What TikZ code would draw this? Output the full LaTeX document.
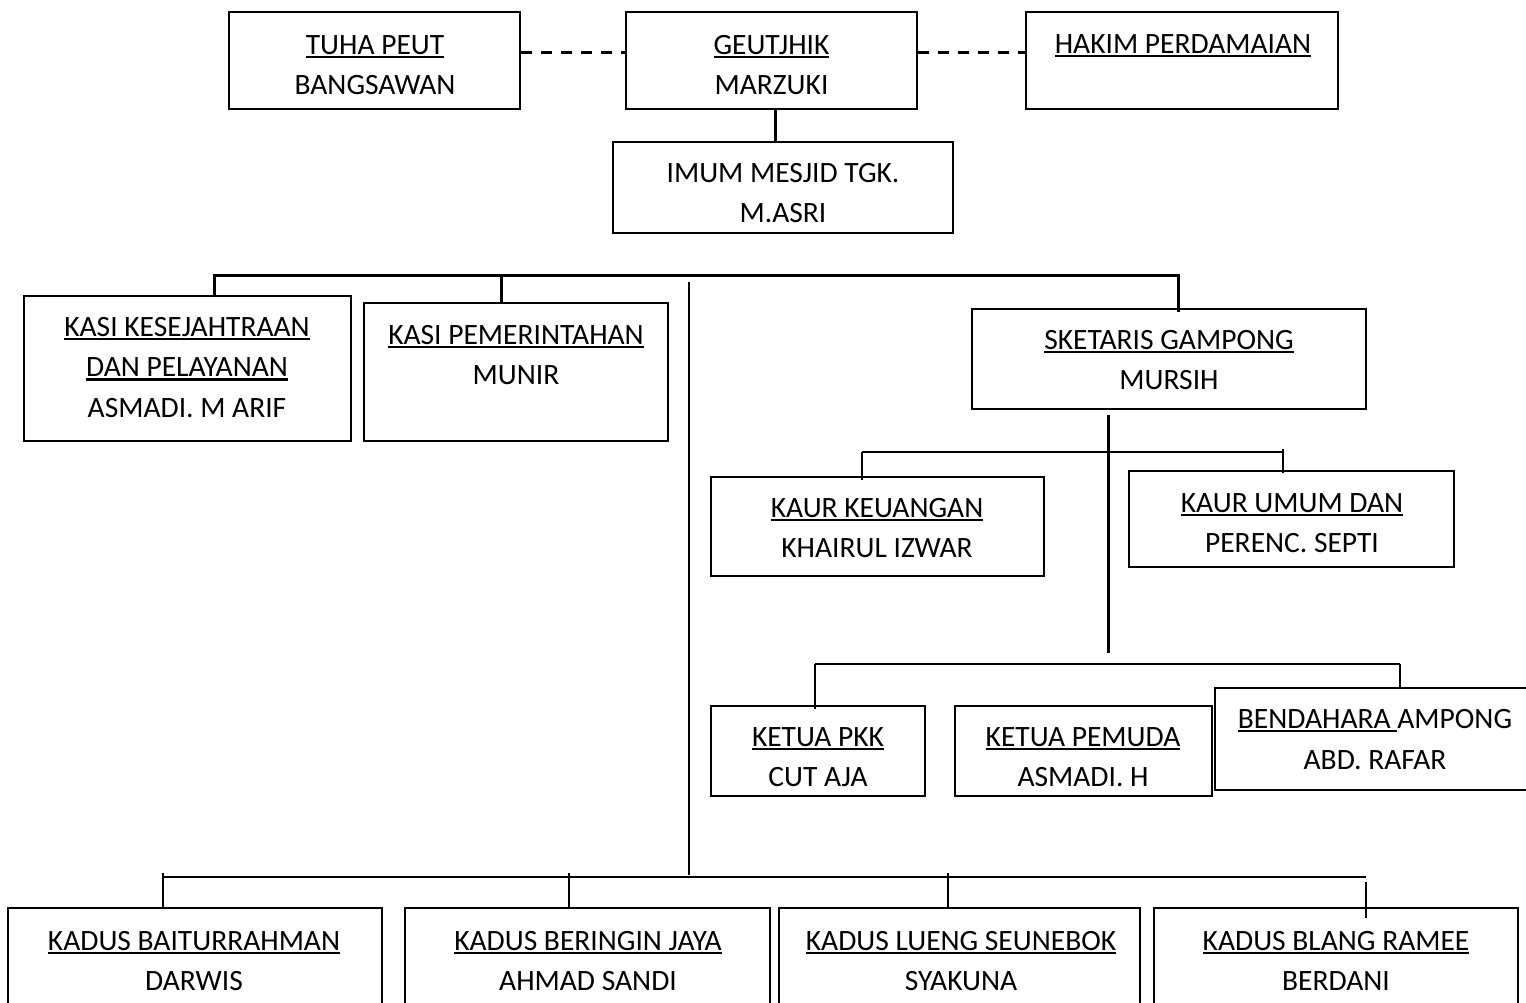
\documentclass[tikz,border=0pt]{standalone}
\usepackage{fontspec}
\setmainfont{Carlito}
\newsavebox\ulbox
\newcommand\ulin[1]{\sbox\ulbox{#1}\rlap{\rule[-3.6pt]{\wd\ulbox}{2.2pt}}\usebox\ulbox}
\begin{document}
\begin{tikzpicture}[x=1pt,y=-1pt,
  box/.style={draw, line width=1.8pt, inner sep=0pt},
  txt/.style={align=center, inner sep=0pt, font=\fontsize{29.5}{40.5}\selectfont},
  conn/.style={line width=1.8pt},
  heavy/.style={line width=3pt},
  dashconn/.style={line width=3pt, dash pattern=on 11pt off 9pt}]
\useasboundingbox (0,0) rectangle (1526,1002);
\clip (0,0) rectangle (1526,1002);
\fill[white] (0,0) rectangle (1526,1002);

% boxes
\node[box, minimum width=291pt, minimum height=97pt] (tuha) at (374.5,60.5) {};
\node[box, minimum width=291pt, minimum height=97pt] (geut) at (771.5,60.5) {};
\node[box, minimum width=312pt, minimum height=97pt] (hakim) at (1182,60.5) {};
\node[box, minimum width=340pt, minimum height=91pt] (imum) at (783,187.5) {};
\node[box, minimum width=327pt, minimum height=145pt] (kasi1) at (187.5,368.5) {};
\node[box, minimum width=304pt, minimum height=138pt] (kasi2) at (516,372) {};
\node[box, minimum width=394pt, minimum height=100pt] (sek) at (1169,359) {};
\node[box, minimum width=333pt, minimum height=99pt] (keu) at (877.5,526.5) {};
\node[box, minimum width=325pt, minimum height=96pt] (umum) at (1291.5,519) {};
\node[box, minimum width=214pt, minimum height=90pt] (pkk) at (818,751) {};
\node[box, minimum width=257pt, minimum height=90pt] (pemuda) at (1083.5,751) {};
\node[box, minimum width=315pt, minimum height=102pt] (bend) at (1372.5,739) {};
\node[box, minimum width=374pt, minimum height=98pt] (k1) at (195,957) {};
\node[box, minimum width=365pt, minimum height=98pt] (k2) at (587.5,957) {};
\node[box, minimum width=361pt, minimum height=98pt] (k3) at (959.5,957) {};
\node[box, minimum width=364pt, minimum height=98pt] (k4) at (1336,957) {};

% texts
\node[txt] (tuhaT) at (375,65) {\ulin{TUHA PEUT}\\BANGSAWAN};
\node[txt] (geutT) at (771.5,65) {\ulin{GEUTJHIK}\\MARZUKI};
\node[txt] (hakimT) at (1183,46) {\ulin{HAKIM PERDAMAIAN}};
\node[txt] (imumT) at (783,193) {IMUM MESJID TGK.\\M.ASRI};
\node[txt] (kasi1T) at (187,367.5) {\ulin{KASI KESEJAHTRAAN}\\\ulin{DAN PELAYANAN}\\ASMADI. M ARIF};
\node[txt] (kasi2T) at (516,355) {\ulin{KASI PEMERINTAHAN}\\MUNIR};
\node[txt] (sekT) at (1169,360) {\ulin{SKETARIS GAMPONG}\\MURSIH};
\node[txt] (keuT) at (877,528) {\ulin{KAUR KEUANGAN}\\KHAIRUL IZWAR};
\node[txt] (umumT) at (1292,523) {\ulin{KAUR UMUM DAN}\\PERENC. SEPTI};
\node[txt] (pkkT) at (818,757) {\ulin{KETUA PKK}\\CUT AJA};
\node[txt] (pemudaT) at (1083,757) {\ulin{KETUA PEMUDA}\\ASMADI. H};
\node[txt] (bendT) at (1375,739.5) {\ulin{BENDAHARA }AMPONG\\ABD. RAFAR};
\node[txt] (k1T) at (194,961) {\ulin{KADUS BAITURRAHMAN}\\DARWIS};
\node[txt] (k2T) at (588,961) {\ulin{KADUS BERINGIN JAYA}\\AHMAD SANDI};
\node[txt] (k3T) at (961,961) {\ulin{KADUS LUENG SEUNEBOK}\\SYAKUNA};
\node[txt] (k4T) at (1336,961) {\ulin{KADUS BLANG RAMEE}\\BERDANI};

% coordinates for buses
\coordinate (busL) at (214,275);
\coordinate (busR) at (1178,275);
\coordinate (midTop) at (689,282);
\coordinate (midBot) at (689,875);
\coordinate (lowL) at (163,877);
\coordinate (lowR) at (1366,877);
\coordinate (secTop) at (1108,415);
\coordinate (secBot) at (1108,653);
\coordinate (kaurL) at (862,452);
\coordinate (kaurR) at (1283,452);
\coordinate (staffL) at (815,664);
\coordinate (staffR) at (1400,664);

% connectors
\draw[dashconn] ([yshift=8.5pt]tuha.east) -- ([yshift=8.5pt]geut.west);
\draw[dashconn] ([yshift=8.5pt]geut.east) -- ([yshift=8.5pt]hakim.west);
\draw[heavy] ([xshift=4pt]geut.south) -- ([xshift=4pt]geut.south |- imum.north);

\draw[heavy] (kasi1.north -| busL) -- (busL) -- (busR) -- ([yshift=-4pt]sek.north -| busR);
\draw[heavy] (busL -| 501,0) -- (kasi2.north -| 501,0);

\draw[conn] (midTop) -- (midBot);
\draw[conn] (lowL) -- (lowR);
\draw[conn] (163,873) -- (k1.north -| lowL);
\draw[conn] (569,873) -- (k2.north -| 569,0);
\draw[conn] (948,873) -- (k3.north -| 948,0);
\draw[conn] (1366,882) -- (1366,918);

\draw[heavy] (secTop) -- (secBot);
\draw[conn] (kaurL) -- (kaurR);
\draw[conn] (kaurL) -- ([yshift=-4pt]keu.north -| kaurL);
\draw[conn] (1283,449) -- ([yshift=-3pt]umum.north -| kaurR);

\draw[conn] (staffL) -- (staffR);
\draw[conn] (staffL) -- ([yshift=-4pt]pkk.north -| staffL);
\draw[conn] (staffR) -- (bend.north -| staffR);
\end{tikzpicture}
\end{document}
